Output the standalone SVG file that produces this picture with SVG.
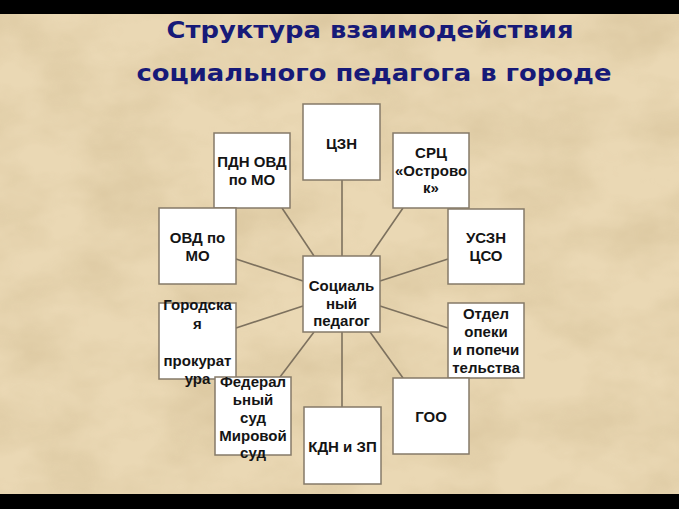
<svg xmlns="http://www.w3.org/2000/svg" width="679" height="509" viewBox="0 0 679 509">
<defs>
<filter id="paper" x="0" y="0" width="100%" height="100%">
<feTurbulence type="fractalNoise" baseFrequency="0.012 0.02" numOctaves="4" seed="7" result="n"/>
<feColorMatrix in="n" type="matrix" values="0 0 0 0 0.55  0 0 0 0 0.42  0 0 0 0 0.22  0 0 0 -1.1 0.75" result="c"/>
<feComposite in="c" in2="SourceGraphic" operator="in"/>
</filter>
<style>
.box{fill:#ffffff;stroke:#857a68;stroke-width:1.5}
.lbl{font-family:"Liberation Sans",Arial,sans-serif;font-weight:bold;font-size:15px;fill:#141414;text-anchor:middle}
.title{font-family:"DejaVu Sans","Liberation Sans",sans-serif;font-weight:bold;font-size:23px;fill:#171a78;text-anchor:middle}
.con{stroke:#7d715e;stroke-width:1.6;fill:none}
</style>
</defs>
<rect x="0" y="0" width="679" height="509" fill="#ead8b4"/>
<rect x="0" y="0" width="679" height="509" fill="#ead8b4" filter="url(#paper)" opacity="0.55"/>
<rect x="0" y="0" width="679" height="14" fill="#000"/>
<rect x="0" y="494" width="679" height="15" fill="#000"/>

<g id="title">
<text class="title" x="370" y="38" textLength="407" lengthAdjust="spacingAndGlyphs">Структура взаимодействия</text>
<text class="title" x="374" y="81" textLength="475" lengthAdjust="spacingAndGlyphs">социального педагога в городе</text>
</g>

<g id="connectors">
<line class="con" x1="342" y1="180" x2="342" y2="256"/>
<line class="con" x1="342" y1="332" x2="342" y2="407"/>
<line class="con" x1="282" y1="208" x2="314" y2="256"/>
<line class="con" x1="403" y1="208" x2="370" y2="256"/>
<line class="con" x1="236" y1="259" x2="303" y2="281"/>
<line class="con" x1="448" y1="259" x2="380" y2="281"/>
<line class="con" x1="236" y1="328" x2="303" y2="306"/>
<line class="con" x1="448" y1="328" x2="380" y2="306"/>
<line class="con" x1="314" y1="332" x2="280" y2="377"/>
<line class="con" x1="370" y1="332" x2="403" y2="378"/>
</g>

<g id="czn">
<rect class="box" x="303" y="104" width="77" height="76"/>
<text class="lbl" x="341.5" y="149">ЦЗН</text>
</g>
<g id="pdn">
<rect class="box" x="214" y="133" width="76" height="75"/>
<text class="lbl" x="252" y="167">ПДН ОВД</text>
<text class="lbl" x="252" y="185">по МО</text>
</g>
<g id="src">
<rect class="box" x="393" y="133" width="76" height="75"/>
<text class="lbl" x="431" y="158">СРЦ</text>
<text class="lbl" x="431" y="176">«Острово</text>
<text class="lbl" x="431" y="193">к»</text>
</g>
<g id="ovd">
<rect class="box" x="159" y="208" width="77" height="76"/>
<text class="lbl" x="197.5" y="243">ОВД по</text>
<text class="lbl" x="197.5" y="261">МО</text>
</g>
<g id="uszn">
<rect class="box" x="448" y="209" width="76" height="75"/>
<text class="lbl" x="486" y="243">УСЗН</text>
<text class="lbl" x="486" y="261">ЦСО</text>
</g>
<g id="soc">
<rect class="box" x="303" y="256" width="77" height="76"/>
<text class="lbl" x="341.5" y="291">Социаль</text>
<text class="lbl" x="341.5" y="308.5">ный</text>
<text class="lbl" x="341.5" y="326">педагог</text>
</g>
<g id="prok">
<rect class="box" x="159" y="303" width="77" height="76"/>
<text class="lbl" x="197.5" y="310">Городска</text>
<text class="lbl" x="197.5" y="328.5">я</text>
<text class="lbl" x="197.5" y="365.5">прокурат</text>
<text class="lbl" x="197.5" y="384">ура</text>
</g>
<g id="opeka">
<rect class="box" x="448" y="303" width="76" height="75"/>
<text class="lbl" x="486" y="319">Отдел</text>
<text class="lbl" x="486" y="337">опеки</text>
<text class="lbl" x="486" y="355">и попечи</text>
<text class="lbl" x="486" y="373">тельства</text>
</g>
<g id="sud">
<rect class="box" x="215" y="377" width="76" height="78"/>
<text class="lbl" x="253" y="387">Федерал</text>
<text class="lbl" x="253" y="404.5">ьный</text>
<text class="lbl" x="253" y="423">суд</text>
<text class="lbl" x="253" y="440.5">Мировой</text>
<text class="lbl" x="253" y="458">суд</text>
</g>
<g id="kdn">
<rect class="box" x="304" y="407" width="77" height="77"/>
<text class="lbl" x="342.5" y="452">КДН и ЗП</text>
</g>
<g id="goo">
<rect class="box" x="393" y="378" width="76" height="76"/>
<text class="lbl" x="431" y="422">ГОО</text>
</g>
</svg>
